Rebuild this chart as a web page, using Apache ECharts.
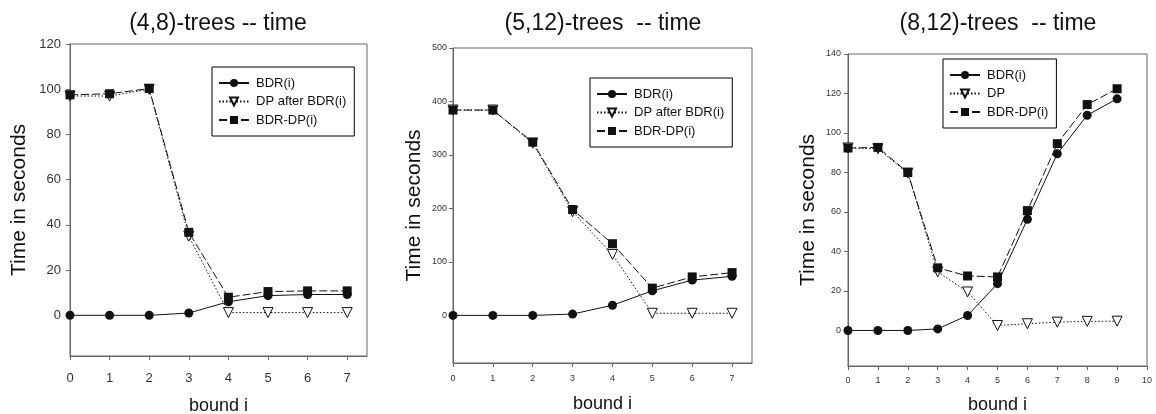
<!DOCTYPE html>
<html>
<head>
<meta charset="utf-8">
<script src="https://cdn.jsdelivr.net/npm/echarts@6.0.0/dist/echarts.min.js"></script>
<style>
html, body { margin: 0; padding: 0; background: #fff; }
#chart { width: 1156px; height: 414px; }
</style>
</head>
<body>
<div id="chart"></div>
<script>
// (4,8)-trees
const bound48 = [0, 1, 2, 3, 4, 5, 6, 7];
const bdr48 = [0, 0, 0, 1, 6, 8.7, 9.2, 9.2];
const dp48 = [97, 97, 100, 35, 1.2, 1.2, 1.2, 1.2];
const bdrdp48 = [97.5, 98, 100.3, 36.7, 8, 10.5, 10.8, 10.8];
const yTicks48 = [0, 20, 40, 60, 80, 100, 120];

// (5,12)-trees
const bound512 = [0, 1, 2, 3, 4, 5, 6, 7];
const bdr512 = [0, 0, 0, 2.5, 19, 46, 66, 73];
const dp512 = [384, 384, 322, 194, 114, 4, 4, 4];
const bdrdp512 = [384, 384, 324, 198, 134, 51, 72, 80];
const yTicks512 = [0, 100, 200, 300, 400, 500];

// (8,12)-trees
const bound812 = [0, 1, 2, 3, 4, 5, 6, 7, 8, 9];
const bdr812 = [0, 0, 0, 0.8, 7.6, 23.7, 56.3, 89.5, 109, 117.3];
const dp812 = [92.4, 92, 79.7, 29.7, 19.5, 2.5, 3.4, 4.2, 4.6, 4.7];
const bdrdp812 = [92.4, 92.7, 80, 31.7, 27.6, 27.1, 60.7, 94.6, 114.4, 122.4];
const yTicks812 = [0, 20, 40, 60, 80, 100, 120, 140];

const xTicks7 = [0, 1, 2, 3, 4, 5, 6, 7];
const xTicks10 = [0, 1, 2, 3, 4, 5, 6, 7, 8, 9, 10];

const font = 'Liberation Sans, Arial, sans-serif';
const ink = '#111';
const frame = '#666';

const chart = echarts.init(document.getElementById('chart'));

function pairs(xs, ys) {
  return xs.map((x, i) => [x, ys[i]]);
}

function bdrSeries(name, idx, xs, ys) {
  return {
    name: name, type: 'line', xAxisIndex: idx, yAxisIndex: idx,
    data: pairs(xs, ys),
    symbol: 'circle', symbolSize: 9,
    itemStyle: { color: ink },
    lineStyle: { color: ink, width: 1, type: 'solid' }
  };
}

function dpSeries(name, idx, xs, ys) {
  return {
    name: name, type: 'line', xAxisIndex: idx, yAxisIndex: idx,
    data: pairs(xs, ys),
    symbol: 'triangle', symbolRotate: 180, symbolSize: 10,
    showAllSymbol: true,
    itemStyle: { color: '#fff', borderColor: ink, borderWidth: 1 },
    lineStyle: { color: ink, width: 1, type: [1.5, 2] }
  };
}

function bdrdpSeries(name, idx, xs, ys) {
  return {
    name: name, type: 'line', xAxisIndex: idx, yAxisIndex: idx,
    data: pairs(xs, ys),
    symbol: 'rect', symbolSize: 9,
    itemStyle: { color: ink },
    lineStyle: { color: ink, width: 1, type: [8, 3] }
  };
}

function xAxis(idx, max, ticks, labelSize, margin, gap) {
  return {
    type: 'value', gridIndex: idx, min: 0, max: max,
    name: 'bound i', nameLocation: 'middle', nameGap: gap,
    nameTextStyle: { fontFamily: font, fontSize: 18, color: ink },
    axisLine: { show: true, onZero: false, lineStyle: { color: frame } },
    axisTick: { show: true, length: 4, customValues: ticks, lineStyle: { color: frame } },
    axisLabel: { customValues: ticks, fontFamily: font, fontSize: labelSize, color: '#333', margin: margin },
    splitLine: { show: false }
  };
}

function yAxis(idx, min, max, ticks, labelSize, margin, gap) {
  return {
    type: 'value', gridIndex: idx, min: min, max: max,
    name: 'Time in seconds', nameLocation: 'middle', nameGap: gap,
    nameTextStyle: { fontFamily: font, fontSize: 21, color: ink },
    axisLine: { show: true, onZero: false, lineStyle: { color: frame } },
    axisTick: { show: true, length: 4, customValues: ticks, lineStyle: { color: frame } },
    axisLabel: { customValues: ticks, fontFamily: font, fontSize: labelSize, color: '#333', margin: margin },
    splitLine: { show: false }
  };
}

function legend(names, left, top) {
  return {
    data: names, orient: 'vertical', left: left, top: top,
    selectedMode: false,
    itemWidth: 30, itemHeight: 10, itemGap: 5.5,
    padding: [9.5, 8, 9.5, 6],
    borderColor: '#000', borderWidth: 1, borderRadius: 0,
    textStyle: { fontFamily: font, fontSize: 13, color: ink, padding: [0, 0, 0, 2] }
  };
}

function title(text, x) {
  return {
    text: text, left: x, top: 12, textAlign: 'center', padding: 0,
    textStyle: { fontFamily: font, fontSize: 23, fontWeight: 'normal', color: ink }
  };
}

const gridBase = {
  show: true, borderColor: frame, borderWidth: 1, backgroundColor: 'transparent',
  containLabel: false, outerBoundsMode: 'none'
};

chart.setOption({
  animation: false,
  backgroundColor: '#fff',
  title: [
    title('(4,8)-trees -- time', 218),
    title('(5,12)-trees  -- time', 603),
    title('(8,12)-trees  -- time', 998)
  ],
  legend: [
    legend(['BDR(i)', 'DP after BDR(i)', 'BDR-DP(i)'], 212, 67),
    legend(['BDR(i)', 'DP after BDR(i)', 'BDR-DP(i)'], 590, 78),
    legend(['BDR(i)', 'DP', 'BDR-DP(i)'], 943, 59)
  ],
  grid: [
    Object.assign({ left: 70, top: 44, width: 297, height: 312 }, gridBase),
    Object.assign({ left: 453, top: 48, width: 299, height: 315 }, gridBase),
    Object.assign({ left: 848, top: 54, width: 299, height: 312 }, gridBase)
  ],
  xAxis: [
    xAxis(0, 7.5, xTicks7, 13, 16, 41),
    xAxis(1, 7.5, xTicks7, 9, 11, 32),
    xAxis(2, 10, xTicks10, 9, 10, 30)
  ],
  yAxis: [
    yAxis(0, -18, 120, yTicks48, 13, 9, 40),
    yAxis(1, -89, 500, yTicks512, 9, 6, 28),
    yAxis(2, -18, 140, yTicks812, 9, 7, 29)
  ],
  series: [
    bdrSeries('BDR(i)', 0, bound48, bdr48),
    dpSeries('DP after BDR(i)', 0, bound48, dp48),
    bdrdpSeries('BDR-DP(i)', 0, bound48, bdrdp48),
    bdrSeries('BDR(i)', 1, bound512, bdr512),
    dpSeries('DP after BDR(i)', 1, bound512, dp512),
    bdrdpSeries('BDR-DP(i)', 1, bound512, bdrdp512),
    bdrSeries('BDR(i)', 2, bound812, bdr812),
    dpSeries('DP', 2, bound812, dp812),
    bdrdpSeries('BDR-DP(i)', 2, bound812, bdrdp812)
  ]
});
</script>
</body>
</html>
